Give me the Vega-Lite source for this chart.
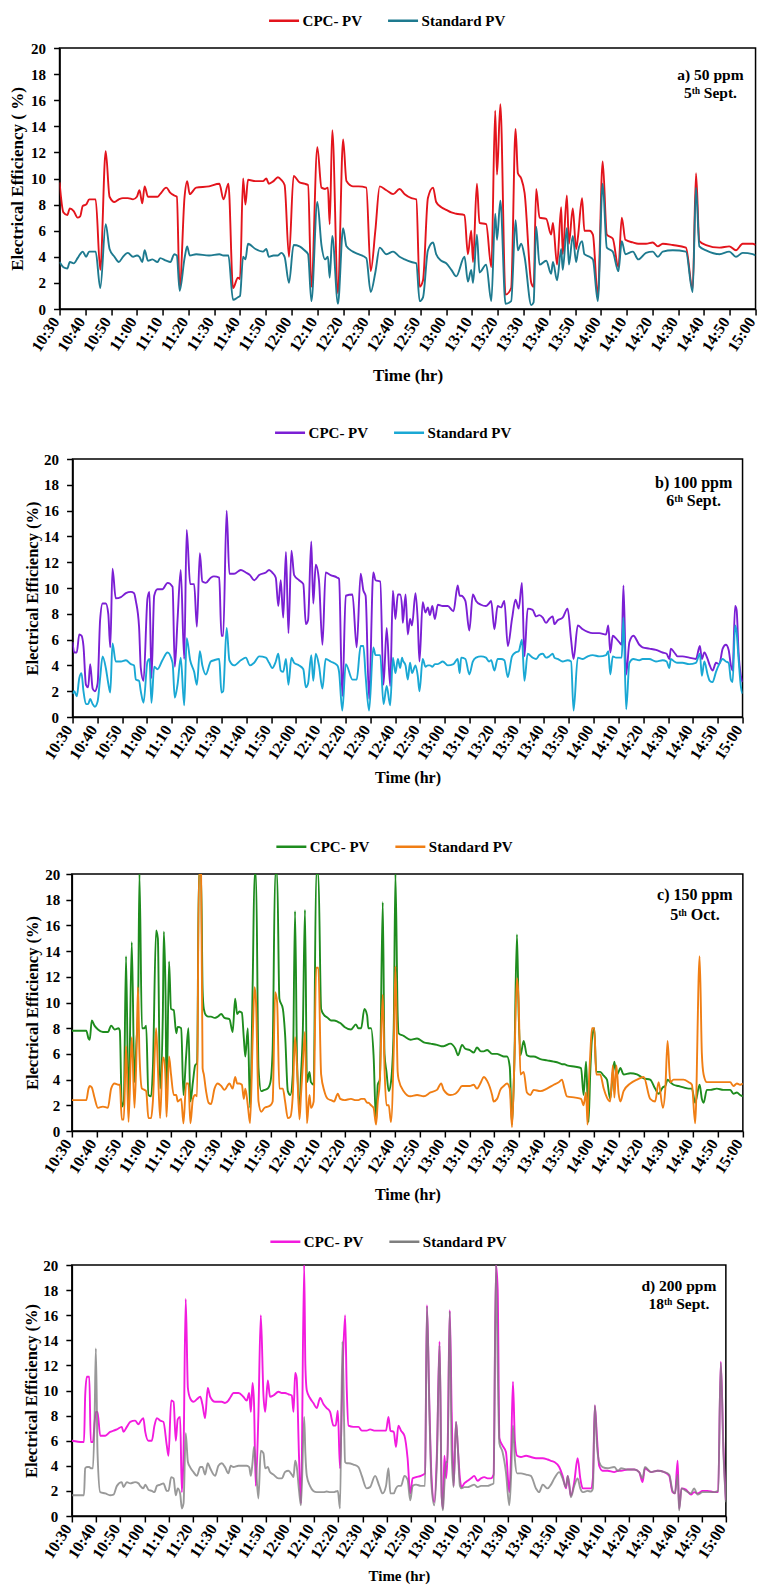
{
  "$schema": "https://vega.github.io/schema/vega-lite/v6.json",
  "background": "white",
  "padding": {"top": 3, "left": 7, "right": 0, "bottom": 0},
  "config": {
    "font": "Liberation Serif",
    "view": {"stroke": "#000", "strokeWidth": 1.5},
    "axis": {
      "grid": false, "domainColor": "#000", "domainWidth": 1.5,
      "tickColor": "#000", "tickWidth": 1.5, "tickSize": 6,
      "labelFont": "Liberation Serif", "labelFontWeight": "bold", "labelColor": "#000", "labelFontSize": 15,
      "labelOverlap": false, "labelFlush": false, "labelBound": false,
      "titleFont": "Liberation Serif", "titleFontWeight": "bold", "titleColor": "#000", "titleFontSize": 16.5
    },
    "axisX": {"labelAngle": -57, "labelAlign": "right", "labelBaseline": "alphabetic", "labelPadding": 6, "labelFontSize": 16, "tickCount": 40},
    "axisY": {"tickCount": 20},
    "legend": {
      "orient": "none", "direction": "horizontal", "title": null,
      "symbolType": "stroke", "symbolSize": 900, "symbolStrokeWidth": 2.5,
      "labelFont": "Liberation Serif", "labelFontWeight": "bold", "labelFontSize": 15, "labelColor": "#000",
      "labelOffset": 2, "columnPadding": 20, "padding": 0, "symbolOffset": 0
    }
  },
  "datasets": {
    "ppm50": [
      {"minute":630,"cpc":9.7,"std":3.6},{"minute":631.5,"cpc":7.4,"std":3.2},{"minute":633,"cpc":7.2,"std":3.1},{"minute":634,"cpc":7.7,"std":3.6},
      {"minute":635.5,"cpc":7.5,"std":3.5},{"minute":637,"cpc":7.0,"std":3.9},{"minute":638,"cpc":7.1,"std":4.2},{"minute":639,"cpc":7.9,"std":4.4},
      {"minute":640.3,"cpc":8.0,"std":4.0},{"minute":641.5,"cpc":8.4,"std":4.4},{"minute":644,"cpc":8.4,"std":4.4},{"minute":645.8,"cpc":3.0,"std":1.6},
      {"minute":647.9,"cpc":12.1,"std":6.5},{"minute":649.4,"cpc":8.6,"std":4.6},{"minute":651.3,"cpc":8.2,"std":4.0},{"minute":653,"cpc":8.4,"std":3.6},
      {"minute":654.6,"cpc":8.5,"std":4.0},{"minute":656.5,"cpc":8.5,"std":4.3},{"minute":658.5,"cpc":8.4,"std":4.0},{"minute":660,"cpc":8.6,"std":4.1},
      {"minute":661,"cpc":9.1,"std":4.0},{"minute":662.1,"cpc":8.1,"std":3.6},{"minute":663,"cpc":9.4,"std":4.5},{"minute":664.3,"cpc":8.6,"std":3.7},
      {"minute":666,"cpc":8.6,"std":3.8},{"minute":668,"cpc":8.6,"std":3.6},{"minute":669,"cpc":8.8,"std":3.9},{"minute":671.4,"cpc":9.3,"std":3.7},
      {"minute":673,"cpc":8.9,"std":3.6},{"minute":674.5,"cpc":8.7,"std":4.2},{"minute":675.5,"cpc":8.6,"std":4.1},{"minute":676.6,"cpc":1.6,"std":1.4},
      {"minute":678.5,"cpc":8.6,"std":3.9},{"minute":679.5,"cpc":9.8,"std":4.8},{"minute":680.5,"cpc":8.8,"std":4.1},{"minute":683,"cpc":9.3,"std":4.2},
      {"minute":688,"cpc":9.4,"std":4.1},{"minute":692,"cpc":9.6,"std":4.2},{"minute":693.6,"cpc":8.4,"std":4.1},{"minute":695.5,"cpc":9.6,"std":4.1},
      {"minute":697.3,"cpc":1.6,"std":0.7},{"minute":699.2,"cpc":2.4,"std":0.9},{"minute":700,"cpc":2.3,"std":1.0},{"minute":701.2,"cpc":10.0,"std":4.0},
      {"minute":702.1,"cpc":8.0,"std":3.8},{"minute":703.1,"cpc":9.9,"std":5.0},{"minute":706,"cpc":9.8,"std":4.6},{"minute":708.9,"cpc":9.8,"std":4.4},
      {"minute":710.2,"cpc":10.0,"std":4.6},{"minute":711.2,"cpc":9.6,"std":4.0},{"minute":713,"cpc":9.8,"std":4.1},{"minute":714.7,"cpc":10.1,"std":4.1},
      {"minute":716,"cpc":9.9,"std":4.3},{"minute":717.3,"cpc":9.5,"std":4.0},{"minute":719,"cpc":4.0,"std":2.0},{"minute":720.8,"cpc":10.2,"std":4.9},
      {"minute":723.1,"cpc":9.7,"std":4.8},{"minute":725,"cpc":9.6,"std":4.5},{"minute":726.4,"cpc":9.5,"std":4.2},{"minute":727.7,"cpc":1.7,"std":0.6},
      {"minute":730,"cpc":12.4,"std":8.2},{"minute":731.6,"cpc":9.3,"std":4.9},{"minute":733,"cpc":9.2,"std":3.8},{"minute":734.1,"cpc":9.3,"std":4.0},
      {"minute":734.8,"cpc":6.5,"std":2.4},{"minute":735.8,"cpc":13.7,"std":5.6},{"minute":738,"cpc":1.2,"std":0.4},{"minute":740,"cpc":13.0,"std":6.2},
      {"minute":741.3,"cpc":9.8,"std":4.8},{"minute":743.8,"cpc":9.4,"std":4.4},{"minute":746,"cpc":9.4,"std":4.2},{"minute":749,"cpc":9.3,"std":3.9},
      {"minute":750.7,"cpc":2.9,"std":1.3},{"minute":752.5,"cpc":6.0,"std":2.8},{"minute":754.2,"cpc":9.4,"std":4.7},{"minute":756.8,"cpc":9.1,"std":4.2},
      {"minute":759.4,"cpc":8.8,"std":4.4},{"minute":761.9,"cpc":9.2,"std":4.0},{"minute":763.9,"cpc":8.8,"std":3.8},{"minute":766.5,"cpc":8.5,"std":3.6},
      {"minute":768.4,"cpc":8.4,"std":3.5},{"minute":769.7,"cpc":1.7,"std":0.6},{"minute":771,"cpc":2.2,"std":0.9},{"minute":772.9,"cpc":8.5,"std":4.5},
      {"minute":774.9,"cpc":9.3,"std":5.1},{"minute":776.1,"cpc":8.2,"std":4.2},{"minute":778.1,"cpc":7.8,"std":3.7},{"minute":780,"cpc":7.6,"std":3.5},
      {"minute":782,"cpc":7.4,"std":3.0},{"minute":783.9,"cpc":7.3,"std":2.5},{"minute":787.1,"cpc":7.2,"std":4.0},{"minute":788.4,"cpc":4.2,"std":2.1},
      {"minute":789.7,"cpc":6.0,"std":3.0},{"minute":790.4,"cpc":3.6,"std":2.0},{"minute":791.9,"cpc":9.6,"std":5.7},{"minute":792.9,"cpc":6.6,"std":2.8},
      {"minute":795.5,"cpc":6.5,"std":3.4},{"minute":797.5,"cpc":3.2,"std":0.6},{"minute":799,"cpc":15.2,"std":7.3},{"minute":799.7,"cpc":10.3,"std":5.3},
      {"minute":801,"cpc":15.7,"std":8.3},{"minute":803,"cpc":1.1,"std":0.4},{"minute":805.2,"cpc":1.6,"std":0.6},{"minute":806.9,"cpc":13.8,"std":6.8},
      {"minute":807.8,"cpc":10.4,"std":4.5},{"minute":809.1,"cpc":10.0,"std":5.0},{"minute":810.4,"cpc":8.9,"std":4.0},{"minute":813,"cpc":2.0,"std":0.3},
      {"minute":813.9,"cpc":1.7,"std":0.5},{"minute":814.9,"cpc":9.2,"std":6.3},{"minute":816.2,"cpc":7.0,"std":3.4},{"minute":818.8,"cpc":6.9,"std":3.7},
      {"minute":820.7,"cpc":5.7,"std":2.7},{"minute":821.4,"cpc":6.6,"std":3.6},{"minute":823,"cpc":3.4,"std":2.2},{"minute":824.6,"cpc":7.8,"std":4.6},
      {"minute":825.2,"cpc":4.2,"std":3.0},{"minute":826.8,"cpc":8.7,"std":6.2},{"minute":827.6,"cpc":5.0,"std":3.4},{"minute":829.1,"cpc":7.7,"std":5.6},
      {"minute":830.4,"cpc":4.6,"std":3.6},{"minute":831.1,"cpc":5.5,"std":4.4},{"minute":832.7,"cpc":8.5,"std":5.2},{"minute":833.6,"cpc":6.0,"std":4.2},
      {"minute":835.6,"cpc":6.0,"std":4.0},{"minute":836.9,"cpc":5.7,"std":3.8},{"minute":838.8,"cpc":1.0,"std":0.6},{"minute":840.7,"cpc":11.3,"std":9.6},
      {"minute":842.3,"cpc":5.7,"std":4.7},{"minute":844.6,"cpc":5.4,"std":4.4},{"minute":846.8,"cpc":3.2,"std":2.9},{"minute":848.1,"cpc":7.0,"std":5.2},
      {"minute":849.5,"cpc":5.3,"std":4.2},{"minute":852.4,"cpc":5.1,"std":4.4},{"minute":854.5,"cpc":5.0,"std":3.8},{"minute":857.5,"cpc":5.0,"std":4.3},
      {"minute":860.1,"cpc":5.1,"std":4.4},{"minute":862.1,"cpc":4.8,"std":4.0},{"minute":864,"cpc":5.0,"std":4.4},{"minute":867.9,"cpc":4.9,"std":4.5},
      {"minute":873,"cpc":4.7,"std":4.4},{"minute":875.6,"cpc":1.5,"std":1.3},{"minute":876.9,"cpc":10.4,"std":9.3},{"minute":878.2,"cpc":5.2,"std":4.8},
      {"minute":880.8,"cpc":4.9,"std":4.5},{"minute":886,"cpc":4.7,"std":4.2},{"minute":889.8,"cpc":4.8,"std":4.4},{"minute":892.4,"cpc":4.5,"std":4.0},
      {"minute":895,"cpc":5.0,"std":4.3},{"minute":898.9,"cpc":5.0,"std":4.2},{"minute":900,"cpc":4.9,"std":4.1}
    ],
    "ppm100": [
      {"minute":630,"cpc":5.8,"std":1.8},{"minute":630.7,"cpc":5.0,"std":2.0},{"minute":631.7,"cpc":5.0,"std":1.6},{"minute":632.7,"cpc":6.4,"std":3.0},
      {"minute":633.6,"cpc":6.3,"std":3.4},{"minute":634.4,"cpc":5.5,"std":2.0},{"minute":635.4,"cpc":2.5,"std":1.0},{"minute":636.3,"cpc":2.3,"std":1.0},
      {"minute":637.1,"cpc":4.1,"std":1.4},{"minute":638.1,"cpc":2.2,"std":1.0},{"minute":639,"cpc":2.0,"std":0.8},{"minute":640.1,"cpc":2.6,"std":1.2},
      {"minute":641.1,"cpc":7.5,"std":3.0},{"minute":642.1,"cpc":8.8,"std":4.7},{"minute":643.4,"cpc":8.8,"std":3.8},{"minute":644.4,"cpc":8.0,"std":2.6},
      {"minute":645.2,"cpc":5.4,"std":1.9},{"minute":646.1,"cpc":11.5,"std":5.7},{"minute":647.4,"cpc":9.2,"std":4.3},{"minute":649.5,"cpc":9.3,"std":4.3},
      {"minute":651.5,"cpc":9.6,"std":4.4},{"minute":653.5,"cpc":9.7,"std":4.1},{"minute":654.8,"cpc":9.6,"std":4.0},{"minute":655.5,"cpc":9.0,"std":2.9},
      {"minute":656.8,"cpc":7.0,"std":2.8},{"minute":657.5,"cpc":3.8,"std":2.0},{"minute":658.6,"cpc":2.8,"std":1.1},{"minute":660.2,"cpc":9.2,"std":4.3},
      {"minute":661,"cpc":9.7,"std":4.5},{"minute":661.8,"cpc":3.0,"std":1.1},{"minute":662.9,"cpc":9.4,"std":3.9},{"minute":664.2,"cpc":9.9,"std":3.7},
      {"minute":666.2,"cpc":9.9,"std":4.4},{"minute":668.3,"cpc":10.4,"std":5.0},{"minute":670.3,"cpc":10.1,"std":4.2},{"minute":671.2,"cpc":3.9,"std":1.5},
      {"minute":672.3,"cpc":7.5,"std":2.5},{"minute":673.6,"cpc":11.4,"std":4.6},{"minute":675,"cpc":4.5,"std":0.9},{"minute":676,"cpc":14.5,"std":6.1},
      {"minute":677.4,"cpc":10.3,"std":4.4},{"minute":679,"cpc":10.3,"std":3.5},{"minute":680.1,"cpc":7.0,"std":2.5},{"minute":681.3,"cpc":12.7,"std":5.1},
      {"minute":682.3,"cpc":10.5,"std":4.0},{"minute":683.7,"cpc":10.4,"std":3.3},{"minute":685.7,"cpc":10.8,"std":4.3},{"minute":687,"cpc":10.9,"std":4.4},
      {"minute":689.1,"cpc":10.8,"std":4.5},{"minute":690,"cpc":6.3,"std":1.9},{"minute":690.7,"cpc":6.3,"std":2.0},{"minute":692.1,"cpc":16.0,"std":6.9},
      {"minute":693.2,"cpc":11.1,"std":4.4},{"minute":695.1,"cpc":11.1,"std":4.0},{"minute":697.8,"cpc":11.4,"std":4.4},{"minute":699.8,"cpc":11.2,"std":4.6},
      {"minute":701.5,"cpc":11.0,"std":4.0},{"minute":703.2,"cpc":10.6,"std":4.2},{"minute":705.2,"cpc":11.0,"std":4.7},{"minute":707.9,"cpc":11.2,"std":4.6},
      {"minute":709.2,"cpc":11.4,"std":4.2},{"minute":710.5,"cpc":11.2,"std":3.8},{"minute":711.9,"cpc":10.8,"std":4.3},{"minute":712.9,"cpc":8.6,"std":4.9},
      {"minute":713.9,"cpc":10.6,"std":3.6},{"minute":714.9,"cpc":7.7,"std":3.5},{"minute":716,"cpc":12.8,"std":4.5},{"minute":717,"cpc":6.5,"std":2.5},
      {"minute":718.2,"cpc":12.9,"std":4.6},{"minute":719.3,"cpc":11.0,"std":4.2},{"minute":721.3,"cpc":10.6,"std":4.0},{"minute":723,"cpc":10.3,"std":3.7},
      {"minute":724,"cpc":7.2,"std":2.3},{"minute":724.9,"cpc":7.5,"std":2.6},{"minute":726.2,"cpc":13.6,"std":4.8},{"minute":727,"cpc":8.8,"std":2.8},
      {"minute":728,"cpc":11.8,"std":4.9},{"minute":729.3,"cpc":10.6,"std":4.0},{"minute":730.7,"cpc":5.6,"std":2.2},{"minute":732,"cpc":11.2,"std":4.5},
      {"minute":734,"cpc":11.0,"std":4.3},{"minute":736.7,"cpc":10.8,"std":4.0},{"minute":737.4,"cpc":10.7,"std":3.5},{"minute":738.7,"cpc":1.6,"std":0.5},
      {"minute":740.1,"cpc":9.4,"std":4.1},{"minute":742.8,"cpc":9.5,"std":2.9},{"minute":744.5,"cpc":5.4,"std":2.9},{"minute":746.1,"cpc":11.1,"std":5.5},
      {"minute":747.2,"cpc":9.8,"std":5.5},{"minute":748.1,"cpc":9.4,"std":3.2},{"minute":749.5,"cpc":1.4,"std":0.5},{"minute":751.2,"cpc":11.2,"std":5.4},
      {"minute":752.1,"cpc":10.6,"std":4.8},{"minute":754,"cpc":10.5,"std":4.8},{"minute":755.3,"cpc":2.5,"std":1.0},{"minute":756.6,"cpc":6.9,"std":2.4},
      {"minute":758,"cpc":2.4,"std":0.9},{"minute":759.1,"cpc":9.8,"std":4.6},{"minute":760.1,"cpc":7.6,"std":3.4},{"minute":761.1,"cpc":9.5,"std":4.5},
      {"minute":762,"cpc":9.5,"std":3.8},{"minute":762.8,"cpc":8.5,"std":4.6},{"minute":763.1,"cpc":7.3,"std":4.4},{"minute":764.2,"cpc":9.5,"std":4.0},
      {"minute":765.1,"cpc":6.4,"std":2.9},{"minute":766,"cpc":7.6,"std":4.2},{"minute":766.8,"cpc":7.1,"std":3.4},{"minute":768.2,"cpc":9.6,"std":4.0},
      {"minute":769.1,"cpc":7.5,"std":3.2},{"minute":769.8,"cpc":4.3,"std":2.0},{"minute":771.1,"cpc":8.9,"std":4.5},{"minute":772.2,"cpc":8.1,"std":3.9},
      {"minute":773.2,"cpc":8.5,"std":4.0},{"minute":774,"cpc":7.9,"std":4.0},{"minute":775,"cpc":8.6,"std":3.9},{"minute":776,"cpc":7.6,"std":4.1},
      {"minute":777.2,"cpc":8.7,"std":4.1},{"minute":779.2,"cpc":8.6,"std":4.3},{"minute":781.2,"cpc":8.6,"std":4.0},{"minute":783.5,"cpc":8.2,"std":4.1},
      {"minute":785.2,"cpc":10.2,"std":4.5},{"minute":786,"cpc":9.4,"std":3.4},{"minute":786.6,"cpc":9.4,"std":4.6},{"minute":788.3,"cpc":9.0,"std":4.5},
      {"minute":789.9,"cpc":6.7,"std":3.3},{"minute":791.3,"cpc":9.5,"std":4.3},{"minute":792.6,"cpc":9.0,"std":4.6},{"minute":794.6,"cpc":8.7,"std":4.7},
      {"minute":796.6,"cpc":8.6,"std":4.6},{"minute":797.8,"cpc":8.8,"std":4.3},{"minute":798.7,"cpc":9.0,"std":4.4},{"minute":800,"cpc":6.8,"std":3.6},
      {"minute":801.3,"cpc":8.6,"std":4.5},{"minute":802.7,"cpc":8.5,"std":4.5},{"minute":804,"cpc":9.0,"std":4.4},{"minute":805.4,"cpc":5.5,"std":3.1},
      {"minute":807.1,"cpc":7.6,"std":4.7},{"minute":808.5,"cpc":9.1,"std":5.0},{"minute":809.8,"cpc":8.4,"std":5.1},{"minute":811.1,"cpc":10.4,"std":6.0},
      {"minute":812.1,"cpc":4.7,"std":2.8},{"minute":813.4,"cpc":8.4,"std":4.9},{"minute":815.4,"cpc":8.3,"std":4.6},{"minute":816.8,"cpc":7.8,"std":4.5},
      {"minute":818.1,"cpc":7.9,"std":4.8},{"minute":819.5,"cpc":7.7,"std":4.9},{"minute":820.8,"cpc":7.3,"std":4.6},{"minute":822.1,"cpc":7.6,"std":4.7},
      {"minute":823.5,"cpc":7.8,"std":4.9},{"minute":824.2,"cpc":7.2,"std":4.6},{"minute":825.5,"cpc":7.5,"std":4.5},{"minute":827.5,"cpc":7.7,"std":4.3},
      {"minute":829.5,"cpc":8.4,"std":4.4},{"minute":830.9,"cpc":6.0,"std":4.3},{"minute":831.9,"cpc":4.5,"std":0.5},{"minute":833.6,"cpc":7.1,"std":4.6},
      {"minute":835.6,"cpc":6.8,"std":4.5},{"minute":837.6,"cpc":6.6,"std":4.7},{"minute":839.6,"cpc":6.5,"std":4.8},{"minute":842.3,"cpc":6.5,"std":4.7},
      {"minute":845,"cpc":6.4,"std":4.8},{"minute":845.9,"cpc":7.1,"std":5.1},{"minute":846.7,"cpc":5.0,"std":3.3},{"minute":847.7,"cpc":6.3,"std":4.7},
      {"minute":849,"cpc":6.1,"std":4.6},{"minute":850.3,"cpc":5.8,"std":4.6},{"minute":851.3,"cpc":5.6,"std":4.6},{"minute":852,"cpc":10.2,"std":7.7},
      {"minute":853.1,"cpc":3.3,"std":0.6},{"minute":854.4,"cpc":5.8,"std":4.2},{"minute":856,"cpc":6.3,"std":4.5},{"minute":858.4,"cpc":5.6,"std":4.4},
      {"minute":859.7,"cpc":5.4,"std":4.5},{"minute":862.4,"cpc":5.3,"std":4.5},{"minute":865.1,"cpc":5.2,"std":4.3},{"minute":867.8,"cpc":5.0,"std":4.4},
      {"minute":869.4,"cpc":4.9,"std":4.3},{"minute":870.5,"cpc":4.5,"std":3.8},{"minute":871.1,"cpc":5.3,"std":4.5},{"minute":872.5,"cpc":5.0,"std":4.3},
      {"minute":873.8,"cpc":4.7,"std":4.2},{"minute":875.8,"cpc":4.7,"std":4.2},{"minute":878.5,"cpc":4.6,"std":4.1},{"minute":881.2,"cpc":4.5,"std":4.2},
      {"minute":882.8,"cpc":5.5,"std":4.9},{"minute":883.6,"cpc":4.5,"std":3.2},{"minute":884.6,"cpc":5.0,"std":4.3},{"minute":885.9,"cpc":4.5,"std":3.3},
      {"minute":886.8,"cpc":4.0,"std":2.8},{"minute":887.9,"cpc":3.6,"std":2.7},{"minute":889.3,"cpc":4.2,"std":3.5},{"minute":890.6,"cpc":4.1,"std":4.1},
      {"minute":892,"cpc":5.3,"std":4.5},{"minute":893.3,"cpc":5.6,"std":4.3},{"minute":894.4,"cpc":5.2,"std":4.2},{"minute":895.3,"cpc":4.0,"std":2.9},
      {"minute":896,"cpc":3.6,"std":2.7},{"minute":897,"cpc":8.6,"std":7.1},{"minute":897.6,"cpc":8.3,"std":6.6},{"minute":898.4,"cpc":5.0,"std":4.5},
      {"minute":899.3,"cpc":3.2,"std":2.4},{"minute":900,"cpc":2.7,"std":1.8}
    ],
    "ppm150": [
      {"minute":630,"cpc":7.8,"std":2.4},{"minute":635.8,"cpc":7.8,"std":2.4},{"minute":636.7,"cpc":7.2,"std":3.3},{"minute":637.2,"cpc":7.1,"std":3.5},
      {"minute":638,"cpc":8.6,"std":3.4},{"minute":639.1,"cpc":8.2,"std":2.6},{"minute":640.5,"cpc":7.9,"std":1.8},{"minute":642.5,"cpc":7.7,"std":1.9},
      {"minute":644.5,"cpc":7.7,"std":1.8},{"minute":645.8,"cpc":8.2,"std":3.3},{"minute":647.2,"cpc":7.9,"std":3.7},{"minute":648.8,"cpc":8.0,"std":3.6},
      {"minute":649.3,"cpc":7.8,"std":3.6},{"minute":650.1,"cpc":1.9,"std":0.9},{"minute":650.9,"cpc":2.3,"std":0.9},{"minute":651.8,"cpc":13.6,"std":6.6},
      {"minute":652.8,"cpc":1.6,"std":0.7},{"minute":654.1,"cpc":14.7,"std":7.3},{"minute":655.2,"cpc":3.8,"std":1.8},{"minute":656,"cpc":7.0,"std":6.0},
      {"minute":656.6,"cpc":9.0,"std":11.2},{"minute":657.2,"cpc":20,"std":6.0},{"minute":658.2,"cpc":8.0,"std":3.3},{"minute":659.2,"cpc":8.0,"std":3.2},
      {"minute":659.9,"cpc":8.2,"std":3.1},{"minute":660.8,"cpc":2.8,"std":1.0},{"minute":661.9,"cpc":2.7,"std":1.0},{"minute":662.6,"cpc":4.9,"std":2.3},
      {"minute":663.9,"cpc":15.6,"std":8.0},{"minute":664.6,"cpc":15.0,"std":5.0},{"minute":665.5,"cpc":3.3,"std":1.0},{"minute":666.6,"cpc":9.0,"std":5.7},
      {"minute":667,"cpc":15.5,"std":5.7},{"minute":667.7,"cpc":10.5,"std":4.0},{"minute":668.1,"cpc":2.3,"std":1.1},{"minute":669.1,"cpc":13.2,"std":5.8},
      {"minute":669.9,"cpc":9.5,"std":4.4},{"minute":671,"cpc":9.4,"std":2.8},{"minute":672,"cpc":7.6,"std":2.8},{"minute":672.6,"cpc":8.1,"std":2.3},
      {"minute":674,"cpc":8.0,"std":2.5},{"minute":674.9,"cpc":2.8,"std":0.6},{"minute":676,"cpc":5.9,"std":3.7},{"minute":676.9,"cpc":8.0,"std":3.7},
      {"minute":677.7,"cpc":2.3,"std":0.6},{"minute":678.7,"cpc":3.8,"std":2.5},{"minute":679.6,"cpc":5.1,"std":2.8},{"minute":680.4,"cpc":5.3,"std":2.7},
      {"minute":681.1,"cpc":20,"std":20},{"minute":682,"cpc":20,"std":20},{"minute":682.6,"cpc":11.0,"std":4.9},{"minute":683.1,"cpc":9.5,"std":4.4},
      {"minute":684,"cpc":9.0,"std":3.1},{"minute":685,"cpc":8.9,"std":2.2},{"minute":686,"cpc":8.9,"std":2.1},{"minute":687.4,"cpc":8.8,"std":3.3},
      {"minute":688.7,"cpc":8.9,"std":3.7},{"minute":690.1,"cpc":9.1,"std":3.5},{"minute":691.4,"cpc":8.8,"std":3.2},{"minute":693.4,"cpc":8.7,"std":3.7},
      {"minute":694.7,"cpc":7.7,"std":3.3},{"minute":695.7,"cpc":10.3,"std":4.2},{"minute":696.5,"cpc":9.1,"std":3.7},{"minute":697.4,"cpc":9.3,"std":3.7},
      {"minute":698.4,"cpc":9.2,"std":3.6},{"minute":699.2,"cpc":7.2,"std":2.5},{"minute":699.8,"cpc":5.8,"std":3.3},{"minute":700.8,"cpc":8.0,"std":2.0},
      {"minute":701.7,"cpc":1.8,"std":0.6},{"minute":702.8,"cpc":12.0,"std":7.5},{"minute":703.5,"cpc":20,"std":11.2},{"minute":704.1,"cpc":20,"std":10.0},
      {"minute":705.1,"cpc":4.9,"std":2.3},{"minute":706.2,"cpc":3.1,"std":1.5},{"minute":707.5,"cpc":3.2,"std":1.8},{"minute":708.8,"cpc":3.3,"std":1.9},
      {"minute":709.9,"cpc":3.8,"std":2.0},{"minute":710.8,"cpc":6.4,"std":2.3},{"minute":711.8,"cpc":20,"std":10.8},{"minute":712.6,"cpc":20,"std":10.0},
      {"minute":713.5,"cpc":10.3,"std":3.3},{"minute":714.9,"cpc":9.5,"std":3.3},{"minute":715.8,"cpc":7.5,"std":2.3},{"minute":716.9,"cpc":3.1,"std":1.0},
      {"minute":717.9,"cpc":2.8,"std":1.1},{"minute":718.9,"cpc":4.4,"std":2.8},{"minute":719.8,"cpc":17.1,"std":7.3},{"minute":720.6,"cpc":5.5,"std":4.9},
      {"minute":721.6,"cpc":2.0,"std":0.9},{"minute":722.2,"cpc":4.4,"std":2.8},{"minute":722.9,"cpc":7.5,"std":5.0},{"minute":723.8,"cpc":17.2,"std":7.7},
      {"minute":724.6,"cpc":3.8,"std":0.6},{"minute":725.6,"cpc":4.6,"std":2.8},{"minute":726.2,"cpc":3.8,"std":1.8},{"minute":727.3,"cpc":3.6,"std":2.3},
      {"minute":728.3,"cpc":20,"std":12.7},{"minute":729.2,"cpc":20,"std":12.7},{"minute":730.3,"cpc":9.5,"std":4.4},{"minute":731.6,"cpc":9.0,"std":3.1},
      {"minute":733,"cpc":8.8,"std":2.5},{"minute":734.3,"cpc":8.6,"std":2.4},{"minute":735.5,"cpc":8.6,"std":2.3},{"minute":737,"cpc":8.5,"std":2.9},
      {"minute":738,"cpc":8.4,"std":2.5},{"minute":739.7,"cpc":8.1,"std":2.4},{"minute":742.3,"cpc":7.9,"std":2.5},{"minute":744.3,"cpc":8.3,"std":2.4},
      {"minute":745.3,"cpc":8.0,"std":2.4},{"minute":746.4,"cpc":8.0,"std":2.5},{"minute":747.7,"cpc":9.5,"std":2.5},{"minute":748.8,"cpc":9.0,"std":2.2},
      {"minute":749.3,"cpc":8.0,"std":2.2},{"minute":750.4,"cpc":8.0,"std":2.0},{"minute":751.4,"cpc":5.9,"std":1.8},{"minute":752.4,"cpc":0.7,"std":0.5},
      {"minute":753.1,"cpc":3.6,"std":2.3},{"minute":753.9,"cpc":4.0,"std":3.8},{"minute":755.1,"cpc":17.8,"std":10.6},{"minute":755.8,"cpc":6.0,"std":4.9},
      {"minute":756.6,"cpc":4.6,"std":2.0},{"minute":757.5,"cpc":3.1,"std":2.0},{"minute":758.4,"cpc":3.8,"std":0.7},{"minute":759.5,"cpc":8.0,"std":6.2},
      {"minute":760.2,"cpc":20,"std":12.8},{"minute":761.1,"cpc":9.0,"std":4.6},{"minute":761.5,"cpc":7.6,"std":4.0},{"minute":763.5,"cpc":7.4,"std":3.1},
      {"minute":766.2,"cpc":7.1,"std":2.7},{"minute":768.9,"cpc":7.2,"std":2.8},{"minute":771.6,"cpc":6.9,"std":2.7},{"minute":774.3,"cpc":6.8,"std":3.0},
      {"minute":776.9,"cpc":6.7,"std":3.2},{"minute":778.6,"cpc":6.6,"std":3.7},{"minute":779.6,"cpc":6.6,"std":3.2},{"minute":782.3,"cpc":6.8,"std":2.8},
      {"minute":784.3,"cpc":6.4,"std":2.9},{"minute":785.4,"cpc":5.9,"std":3.1},{"minute":787,"cpc":6.7,"std":3.5},{"minute":788.3,"cpc":6.4,"std":3.5},
      {"minute":790.1,"cpc":6.3,"std":3.5},{"minute":791.7,"cpc":6.1,"std":3.6},{"minute":793,"cpc":6.5,"std":3.3},{"minute":794.6,"cpc":6.2,"std":3.8},
      {"minute":795.7,"cpc":6.2,"std":4.2},{"minute":797.1,"cpc":6.3,"std":3.9},{"minute":799.1,"cpc":6.0,"std":2.8},{"minute":799.7,"cpc":6.0,"std":2.3},
      {"minute":801.1,"cpc":6.0,"std":2.5},{"minute":802.4,"cpc":5.9,"std":3.2},{"minute":803.8,"cpc":5.8,"std":3.5},{"minute":805.1,"cpc":5.8,"std":3.7},
      {"minute":806.2,"cpc":5.0,"std":3.3},{"minute":807.1,"cpc":0.5,"std":0.3},{"minute":808,"cpc":5.0,"std":4.9},{"minute":809.1,"cpc":15.3,"std":11.9},
      {"minute":809.8,"cpc":9.0,"std":10.0},{"minute":810.5,"cpc":5.9,"std":4.4},{"minute":811.8,"cpc":7.0,"std":4.6},{"minute":813.1,"cpc":5.9,"std":3.0},
      {"minute":814.5,"cpc":5.8,"std":2.8},{"minute":815.8,"cpc":5.8,"std":3.2},{"minute":818.5,"cpc":5.6,"std":3.1},{"minute":821.2,"cpc":5.5,"std":3.3},
      {"minute":823.9,"cpc":5.4,"std":3.6},{"minute":825.9,"cpc":5.3,"std":3.8},{"minute":827.2,"cpc":5.2,"std":4.0},{"minute":828.2,"cpc":5.2,"std":3.3},
      {"minute":829.2,"cpc":5.1,"std":2.7},{"minute":832.6,"cpc":5.0,"std":2.6},{"minute":834.9,"cpc":4.9,"std":2.5},{"minute":835.9,"cpc":2.8,"std":2.0},
      {"minute":836.9,"cpc":5.4,"std":3.0},{"minute":837.5,"cpc":2.5,"std":0.5},{"minute":837.9,"cpc":0.7,"std":3.0},{"minute":838.6,"cpc":4.6,"std":6.0},
      {"minute":839.3,"cpc":7.2,"std":8.0},{"minute":840.2,"cpc":8.0,"std":8.0},{"minute":841,"cpc":4.6,"std":4.4},{"minute":842.6,"cpc":4.6,"std":4.4},
      {"minute":844,"cpc":4.3,"std":3.3},{"minute":845.3,"cpc":4.0,"std":2.6},{"minute":846.6,"cpc":2.5,"std":2.3},{"minute":847.7,"cpc":4.6,"std":5.1},
      {"minute":848.3,"cpc":5.4,"std":2.6},{"minute":849.1,"cpc":4.3,"std":5.1},{"minute":850,"cpc":4.6,"std":2.9},{"minute":850.7,"cpc":4.9,"std":2.3},
      {"minute":852,"cpc":4.4,"std":3.1},{"minute":854.7,"cpc":4.5,"std":3.7},{"minute":857.4,"cpc":4.4,"std":4.0},{"minute":860.1,"cpc":4.1,"std":4.2},
      {"minute":862.7,"cpc":4.0,"std":2.5},{"minute":864.7,"cpc":3.3,"std":2.3},{"minute":866.1,"cpc":2.9,"std":3.8},{"minute":867.8,"cpc":3.4,"std":1.8},
      {"minute":868.8,"cpc":3.5,"std":3.3},{"minute":869.7,"cpc":4.0,"std":7.0},{"minute":870.8,"cpc":3.8,"std":3.8},{"minute":872.1,"cpc":3.6,"std":4.0},
      {"minute":874.1,"cpc":3.5,"std":4.0},{"minute":876.1,"cpc":3.4,"std":4.0},{"minute":878.2,"cpc":3.3,"std":3.8},{"minute":879.5,"cpc":3.3,"std":3.6},
      {"minute":880.8,"cpc":2.2,"std":0.6},{"minute":882.6,"cpc":3.6,"std":13.6},{"minute":883.5,"cpc":2.5,"std":6.0},{"minute":884.2,"cpc":2.2,"std":4.4},
      {"minute":885.5,"cpc":3.2,"std":3.8},{"minute":886.9,"cpc":3.2,"std":3.8},{"minute":889.5,"cpc":3.3,"std":3.8},{"minute":892.2,"cpc":3.2,"std":3.8},
      {"minute":894.9,"cpc":3.2,"std":3.8},{"minute":896.2,"cpc":2.9,"std":3.5},{"minute":897.6,"cpc":3.0,"std":3.7},{"minute":898.9,"cpc":2.8,"std":3.6},
      {"minute":900,"cpc":2.7,"std":3.7}
    ],
    "ppm200": [
      {"minute":630,"cpc":6.0,"std":1.65},{"minute":634.4,"cpc":5.9,"std":1.65},{"minute":635,"cpc":5.9,"std":1.65},{"minute":635.5,"cpc":9.6,"std":3.8},
      {"minute":636.2,"cpc":11.1,"std":3.9},{"minute":637.2,"cpc":11.1,"std":3.9},{"minute":637.8,"cpc":5.9,"std":3.8},{"minute":638.7,"cpc":5.9,"std":3.8},
      {"minute":639.4,"cpc":7.5,"std":8.0},{"minute":639.9,"cpc":8.3,"std":13.35},{"minute":640.6,"cpc":8.3,"std":5.0},{"minute":641.7,"cpc":6.4,"std":1.9},
      {"minute":643.8,"cpc":6.4,"std":1.8},{"minute":645.8,"cpc":6.7,"std":1.65},{"minute":647.2,"cpc":6.8,"std":1.7},{"minute":648.6,"cpc":6.9,"std":2.4},
      {"minute":650.6,"cpc":7.1,"std":2.7},{"minute":651.3,"cpc":6.7,"std":2.3},{"minute":652.7,"cpc":7.1,"std":2.7},{"minute":654.1,"cpc":7.5,"std":2.6},
      {"minute":656.1,"cpc":7.6,"std":2.7},{"minute":657.5,"cpc":7.3,"std":2.6},{"minute":658.2,"cpc":7.5,"std":2.4},{"minute":659.5,"cpc":7.8,"std":2.2},
      {"minute":660.3,"cpc":6.7,"std":2.5},{"minute":661.6,"cpc":6.0,"std":2.1},{"minute":663,"cpc":6.0,"std":2.0},{"minute":664.1,"cpc":7.2,"std":1.9},
      {"minute":665.1,"cpc":7.8,"std":2.4},{"minute":666.5,"cpc":7.6,"std":2.5},{"minute":667.8,"cpc":7.5,"std":2.6},{"minute":669.2,"cpc":5.6,"std":2.0},
      {"minute":669.9,"cpc":4.8,"std":2.0},{"minute":671,"cpc":9.2,"std":3.1},{"minute":672,"cpc":9.1,"std":3.0},{"minute":672.9,"cpc":6.0,"std":1.65},
      {"minute":673.7,"cpc":7.7,"std":2.2},{"minute":674.7,"cpc":7.9,"std":1.8},{"minute":675.4,"cpc":1.9,"std":0.6},{"minute":676.1,"cpc":5.0,"std":1.0},
      {"minute":677,"cpc":17.3,"std":6.6},{"minute":677.9,"cpc":10.2,"std":4.3},{"minute":678.8,"cpc":9.4,"std":3.9},{"minute":680.2,"cpc":9.1,"std":3.5},
      {"minute":681.6,"cpc":9.3,"std":3.2},{"minute":683,"cpc":9.5,"std":3.9},{"minute":683.9,"cpc":8.9,"std":3.9},{"minute":685,"cpc":7.8,"std":3.3},
      {"minute":686.1,"cpc":10.2,"std":4.2},{"minute":687.1,"cpc":9.5,"std":3.8},{"minute":689.1,"cpc":9.1,"std":3.2},{"minute":690.5,"cpc":9.1,"std":4.0},
      {"minute":691.9,"cpc":9.1,"std":4.2},{"minute":693.2,"cpc":9.0,"std":3.9},{"minute":694.6,"cpc":9.2,"std":3.4},{"minute":695.6,"cpc":9.5,"std":4.0},
      {"minute":696.7,"cpc":9.8,"std":3.9},{"minute":698.8,"cpc":9.8,"std":4.0},{"minute":700.8,"cpc":9.5,"std":4.0},{"minute":702.2,"cpc":9.2,"std":4.0},
      {"minute":703.2,"cpc":9.8,"std":3.9},{"minute":703.9,"cpc":8.3,"std":3.2},{"minute":704.6,"cpc":10.6,"std":4.3},{"minute":705.2,"cpc":9.0,"std":5.5},
      {"minute":705.9,"cpc":2.4,"std":4.2},{"minute":707,"cpc":8.0,"std":1.4},{"minute":708,"cpc":16.0,"std":5.2},{"minute":709.1,"cpc":9.6,"std":5.0},
      {"minute":709.8,"cpc":8.3,"std":3.8},{"minute":710.9,"cpc":10.8,"std":3.9},{"minute":711.8,"cpc":9.5,"std":3.5},{"minute":713.2,"cpc":9.6,"std":3.3},
      {"minute":715.3,"cpc":9.9,"std":3.0},{"minute":716.7,"cpc":9.8,"std":3.0},{"minute":718,"cpc":9.8,"std":3.5},{"minute":719.4,"cpc":9.7,"std":3.6},
      {"minute":720.8,"cpc":9.6,"std":3.3},{"minute":721.5,"cpc":8.3,"std":3.1},{"minute":722.2,"cpc":11.4,"std":4.4},{"minute":722.8,"cpc":11.0,"std":4.0},
      {"minute":723.8,"cpc":4.6,"std":2.0},{"minute":724.6,"cpc":1.0,"std":0.85},{"minute":725.9,"cpc":20,"std":7.9},{"minute":726.4,"cpc":12.0,"std":5.0},
      {"minute":727,"cpc":10.0,"std":3.2},{"minute":728.3,"cpc":9.4,"std":2.4},{"minute":729.7,"cpc":9.0,"std":2.0},{"minute":731.1,"cpc":8.6,"std":1.9},
      {"minute":732.5,"cpc":9.4,"std":1.9},{"minute":733.9,"cpc":8.9,"std":1.9},{"minute":735.2,"cpc":8.6,"std":1.95},{"minute":736.6,"cpc":8.3,"std":1.9},
      {"minute":738,"cpc":7.2,"std":1.9},{"minute":738.9,"cpc":7.2,"std":1.95},{"minute":739.8,"cpc":8.4,"std":2.0},{"minute":740.7,"cpc":3.8,"std":0.6},
      {"minute":741.7,"cpc":11.0,"std":13.9},{"minute":742.8,"cpc":16.0,"std":4.3},{"minute":743.5,"cpc":10.0,"std":4.2},{"minute":744.2,"cpc":7.2,"std":4.2},
      {"minute":746.2,"cpc":7.1,"std":4.1},{"minute":748.3,"cpc":7.1,"std":3.9},{"minute":749.7,"cpc":6.8,"std":3.2},{"minute":751.7,"cpc":6.8,"std":2.2},
      {"minute":753.1,"cpc":6.9,"std":2.3},{"minute":755.2,"cpc":6.8,"std":3.2},{"minute":756.9,"cpc":6.8,"std":2.4},{"minute":758.3,"cpc":6.8,"std":1.8},
      {"minute":759.7,"cpc":6.8,"std":2.4},{"minute":760.7,"cpc":7.9,"std":3.8},{"minute":761.5,"cpc":6.8,"std":1.8},{"minute":762.9,"cpc":6.7,"std":1.8},
      {"minute":763.8,"cpc":5.5,"std":2.2},{"minute":764.8,"cpc":7.2,"std":2.4},{"minute":765.9,"cpc":6.8,"std":2.4},{"minute":767.3,"cpc":6.4,"std":3.2},
      {"minute":768.6,"cpc":4.6,"std":2.9},{"minute":769.7,"cpc":1.8,"std":1.25},{"minute":770.7,"cpc":3.0,"std":2.4},{"minute":772.1,"cpc":3.1,"std":2.5},
      {"minute":774.1,"cpc":3.2,"std":2.4},{"minute":775.8,"cpc":3.4,"std":2.4},{"minute":776.6,"cpc":16.8,"std":16.7},{"minute":777.6,"cpc":8.8,"std":8.3},
      {"minute":778.5,"cpc":3.0,"std":2.4},{"minute":779.6,"cpc":1.1,"std":0.85},{"minute":780.7,"cpc":5.0,"std":4.3},{"minute":781.8,"cpc":13.9,"std":13.6},
      {"minute":782.7,"cpc":1.5,"std":1.6},{"minute":783.2,"cpc":0.6,"std":0.45},{"minute":783.8,"cpc":4.8,"std":2.5},{"minute":784.5,"cpc":3.0,"std":4.3},
      {"minute":785.1,"cpc":5.0,"std":4.3},{"minute":786,"cpc":16.4,"std":16.3},{"minute":786.8,"cpc":8.3,"std":5.0},{"minute":787.6,"cpc":2.4,"std":2.3},
      {"minute":788.6,"cpc":7.5,"std":7.5},{"minute":789.3,"cpc":5.6,"std":5.6},{"minute":790.2,"cpc":3.0,"std":2.4},{"minute":790.9,"cpc":2.3,"std":2.2},
      {"minute":792,"cpc":2.6,"std":2.3},{"minute":793.4,"cpc":2.8,"std":2.3},{"minute":794.8,"cpc":3.0,"std":2.4},{"minute":796.1,"cpc":3.2,"std":2.5},
      {"minute":797.5,"cpc":2.8,"std":2.3},{"minute":798.9,"cpc":3.0,"std":2.4},{"minute":800.3,"cpc":3.1,"std":2.4},{"minute":801.6,"cpc":3.0,"std":2.4},
      {"minute":803,"cpc":3.0,"std":2.5},{"minute":804.1,"cpc":3.3,"std":2.6},{"minute":805.1,"cpc":20,"std":20},{"minute":805.8,"cpc":18.0,"std":12.0},
      {"minute":806.5,"cpc":6.2,"std":5.8},{"minute":807.8,"cpc":5.6,"std":5.1},{"minute":809.2,"cpc":5.1,"std":3.5},{"minute":810.6,"cpc":1.9,"std":0.85},
      {"minute":811.3,"cpc":4.8,"std":3.0},{"minute":812.1,"cpc":10.7,"std":7.2},{"minute":812.9,"cpc":6.0,"std":4.5},{"minute":813.8,"cpc":4.8,"std":3.4},
      {"minute":815.4,"cpc":4.7,"std":3.4},{"minute":817.5,"cpc":4.8,"std":3.3},{"minute":819.5,"cpc":4.7,"std":3.2},{"minute":821.6,"cpc":4.6,"std":2.2},
      {"minute":822.9,"cpc":4.6,"std":1.9},{"minute":824.4,"cpc":4.6,"std":2.5},{"minute":826.4,"cpc":4.5,"std":2.2},{"minute":827.8,"cpc":4.4,"std":2.5},
      {"minute":829.2,"cpc":4.3,"std":3.0},{"minute":831.2,"cpc":3.9,"std":3.5},{"minute":832.6,"cpc":3.2,"std":3.0},{"minute":834,"cpc":2.2,"std":2.3},
      {"minute":834.7,"cpc":3.2,"std":3.2},{"minute":835.4,"cpc":2.3,"std":2.5},{"minute":836,"cpc":1.6,"std":1.5},{"minute":837.4,"cpc":2.7,"std":2.4},
      {"minute":838.8,"cpc":4.6,"std":3.0},{"minute":839.9,"cpc":3.0,"std":2.2},{"minute":840.9,"cpc":2.2,"std":1.9},{"minute":842.9,"cpc":2.2,"std":2.0},
      {"minute":844.3,"cpc":2.2,"std":1.95},{"minute":845.1,"cpc":3.0,"std":2.2},{"minute":845.9,"cpc":8.8,"std":8.8},{"minute":846.8,"cpc":6.2,"std":5.6},
      {"minute":847.7,"cpc":4.0,"std":4.3},{"minute":849.1,"cpc":3.6,"std":3.9},{"minute":851.2,"cpc":3.6,"std":3.8},{"minute":853.9,"cpc":3.5,"std":3.9},
      {"minute":855.5,"cpc":3.6,"std":3.6},{"minute":856.7,"cpc":3.6,"std":3.8},{"minute":859.4,"cpc":3.7,"std":3.7},{"minute":862.2,"cpc":3.7,"std":3.7},
      {"minute":864.2,"cpc":3.5,"std":3.5},{"minute":865.6,"cpc":2.7,"std":3.0},{"minute":866.6,"cpc":3.8,"std":3.9},{"minute":869.1,"cpc":3.5,"std":3.5},
      {"minute":871.8,"cpc":3.6,"std":3.6},{"minute":874.6,"cpc":3.5,"std":3.5},{"minute":876.6,"cpc":3.2,"std":3.3},{"minute":878,"cpc":1.9,"std":2.0},
      {"minute":879,"cpc":1.8,"std":1.8},{"minute":880.1,"cpc":4.4,"std":3.3},{"minute":880.7,"cpc":0.6,"std":0.45},{"minute":881.7,"cpc":2.2,"std":2.2},
      {"minute":883.5,"cpc":2.1,"std":2.0},{"minute":885.6,"cpc":1.7,"std":1.8},{"minute":886.9,"cpc":1.9,"std":2.2},{"minute":888.3,"cpc":1.8,"std":1.7},
      {"minute":890.4,"cpc":2.0,"std":1.9},{"minute":892.4,"cpc":2.0,"std":1.9},{"minute":895.2,"cpc":1.9,"std":1.9},{"minute":896.8,"cpc":1.9,"std":2.0},
      {"minute":897.9,"cpc":12.3,"std":12.2},{"minute":899,"cpc":5.4,"std":5.0},{"minute":900,"cpc":1.25,"std":1.1}
    ]
  },
  "vconcat": [
    {
      "vconcat": [
        {
          "width": 696, "height": 261,
          "layer": [
            {
              "data": {"name": "ppm50"},
              "transform": [{"fold": ["cpc", "std"], "as": ["series", "efficiency"]}],
              "mark": {"type": "line", "interpolate": "monotone", "strokeWidth": 1.9, "clip": true},
              "encoding": {
                "x": {"field": "minute", "type": "quantitative", "title": "Time (hr)",
                  "scale": {"domain": [630, 900], "nice": false, "zero": false},
                  "axis": {"values": [630,640,650,660,670,680,690,700,710,720,730,740,750,760,770,780,790,800,810,820,830,840,850,860,870,880,890,900],
                    "tickCount": 40, "labelOverlap": false,
                    "labelExpr": "floor(datum.value/60) + ':' + (datum.value % 60 == 0 ? '00' : datum.value % 60)",
                    "titlePadding": 14, "titleFontSize": 17}},
                "y": {"field": "efficiency", "type": "quantitative", "title": "Electrical  Efficiency ( %)",
                  "scale": {"domain": [0, 20], "nice": false},
                  "axis": {"values": [0,2,4,6,8,10,12,14,16,18,20], "tickCount": 20, "labelOverlap": false, "labelPadding": 8, "titlePadding": 4, "titleFontSize": 17}},
                "color": {"field": "series", "type": "nominal",
                  "scale": {"domain": ["cpc", "std"], "range": ["#e3141c", "#1e7a8f"]},
                  "legend": {"legendX": 208, "legendY": -44, "labelExpr": "datum.label == 'cpc' ? 'CPC- PV' : 'Standard PV'"}}
              }
            },
            {
              "data": {"values": [{}]},
              "mark": {"type": "text", "text": ["a) 50 ppm", "5ᵗʰ Sept."], "font": "Liberation Serif", "fontWeight": "bold", "fontSize": 15.5, "lineHeight": 18, "align": "center", "baseline": "middle", "color": "#000"},
              "encoding": {
                "x": {"datum": 882.5, "type": "quantitative", "title": "Time (hr)"},
                "y": {"datum": 17.93, "type": "quantitative", "title": "Electrical  Efficiency ( %)"}
              }
            }
          ]
        },
        {
          "width": 670, "height": 258,
          "layer": [
            {
              "data": {"name": "ppm100"},
              "transform": [{"fold": ["cpc", "std"], "as": ["series", "efficiency"]}],
              "mark": {"type": "line", "interpolate": "monotone", "strokeWidth": 1.9, "clip": true},
              "encoding": {
                "x": {"field": "minute", "type": "quantitative", "title": "Time (hr)",
                  "scale": {"domain": [630, 900], "nice": false, "zero": false},
                  "axis": {"values": [630,640,650,660,670,680,690,700,710,720,730,740,750,760,770,780,790,800,810,820,830,840,850,860,870,880,890,900],
                    "tickCount": 40, "labelOverlap": false,
                    "labelExpr": "floor(datum.value/60) + ':' + (datum.value % 60 == 0 ? '00' : datum.value % 60)",
                    "titlePadding": 8, "titleFontSize": 16}},
                "y": {"field": "efficiency", "type": "quantitative", "title": "Electrical  Efficiency  (%)",
                  "scale": {"domain": [0, 20], "nice": false},
                  "axis": {"values": [0,2,4,6,8,10,12,14,16,18,20], "tickCount": 20, "labelOverlap": false, "labelPadding": 8, "titlePadding": 3}},
                "color": {"field": "series", "type": "nominal",
                  "scale": {"domain": ["cpc", "std"], "range": ["#7b1fd4", "#1aa8d4"]},
                  "legend": {"legendX": 201, "legendY": -43, "labelExpr": "datum.label == 'cpc' ? 'CPC- PV' : 'Standard PV'"}}
              }
            },
            {
              "data": {"values": [{}]},
              "mark": {"type": "text", "text": ["b) 100 ppm", "6ᵗʰ Sept."], "font": "Liberation Serif", "fontWeight": "bold", "fontSize": 16, "lineHeight": 18, "align": "center", "baseline": "middle", "color": "#000"},
              "encoding": {
                "x": {"datum": 880.3, "type": "quantitative", "title": "Time (hr)"},
                "y": {"datum": 18.14, "type": "quantitative", "title": "Electrical  Efficiency  (%)"}
              }
            }
          ]
        }
      ],
      "spacing": 30,
      "center": true,
      "resolve": {"scale": {"x": "independent", "y": "independent", "color": "independent"}, "legend": {"color": "independent"}}
    },
    {
      "vconcat": [
        {
          "width": 671, "height": 257,
          "layer": [
            {
              "data": {"name": "ppm150"},
              "transform": [{"fold": ["cpc", "std"], "as": ["series", "efficiency"]}],
              "mark": {"type": "line", "interpolate": "monotone", "strokeWidth": 1.9, "clip": true},
              "encoding": {
                "x": {"field": "minute", "type": "quantitative", "title": "Time (hr)",
                  "scale": {"domain": [630, 900], "nice": false, "zero": false},
                  "axis": {"values": [630,640,650,660,670,680,690,700,710,720,730,740,750,760,770,780,790,800,810,820,830,840,850,860,870,880,890,900],
                    "tickCount": 40, "labelOverlap": false,
                    "labelExpr": "floor(datum.value/60) + ':' + (datum.value % 60 == 0 ? '00' : datum.value % 60)",
                    "titlePadding": 11, "titleFontSize": 16}},
                "y": {"field": "efficiency", "type": "quantitative", "title": "Electrical  Efficiency  (%)",
                  "scale": {"domain": [0, 20], "nice": false},
                  "axis": {"values": [0,2,4,6,8,10,12,14,16,18,20], "tickCount": 20, "labelOverlap": false, "labelPadding": 6, "titlePadding": 4}},
                "color": {"field": "series", "type": "nominal",
                  "scale": {"domain": ["cpc", "std"], "range": ["#1e8c1e", "#f07e14"]},
                  "legend": {"legendX": 203, "legendY": -44, "labelExpr": "datum.label == 'cpc' ? 'CPC- PV' : 'Standard PV'"}}
              }
            },
            {
              "data": {"values": [{}]},
              "mark": {"type": "text", "text": ["c) 150 ppm", "5ᵗʰ Oct."], "font": "Liberation Serif", "fontWeight": "bold", "fontSize": 16, "lineHeight": 20, "align": "center", "baseline": "middle", "color": "#000"},
              "encoding": {
                "x": {"datum": 880.7, "type": "quantitative", "title": "Time (hr)"},
                "y": {"datum": 18.37, "type": "quantitative", "title": "Electrical  Efficiency  (%)"}
              }
            }
          ]
        },
        {
          "width": 654, "height": 251,
          "layer": [
            {
              "data": {"name": "ppm200"},
              "transform": [{"fold": ["cpc", "std"], "as": ["series", "efficiency"]}],
              "mark": {"type": "line", "interpolate": "monotone", "strokeWidth": 1.9, "clip": true},
              "encoding": {
                "x": {"field": "minute", "type": "quantitative", "title": "Time (hr)",
                  "scale": {"domain": [630, 900], "nice": false, "zero": false},
                  "axis": {"values": [630,640,650,660,670,680,690,700,710,720,730,740,750,760,770,780,790,800,810,820,830,840,850,860,870,880,890,900],
                    "tickCount": 40, "labelOverlap": false,
                    "labelExpr": "floor(datum.value/60) + ':' + (datum.value % 60 == 0 ? '00' : datum.value % 60)",
                    "titlePadding": 8, "titleFontSize": 15}},
                "y": {"field": "efficiency", "type": "quantitative", "title": "Electrical  Efficiency  (%)",
                  "scale": {"domain": [0, 20], "nice": false},
                  "axis": {"values": [0,2,4,6,8,10,12,14,16,18,20], "tickCount": 20, "labelOverlap": false, "labelPadding": 8, "titlePadding": 3}},
                "color": {"field": "series", "type": "nominal",
                  "scale": {"domain": ["cpc", "std"], "range": ["#f21bde", "#7f7f7f"]},
                  "legend": {"legendX": 197, "legendY": -40, "labelExpr": "datum.label == 'cpc' ? 'CPC- PV' : 'Standard PV'"}},
                "strokeOpacity": {"field": "series", "type": "nominal",
                  "scale": {"domain": ["cpc", "std"], "range": [1, 0.8]}, "legend": null}
              }
            },
            {
              "data": {"values": [{}]},
              "mark": {"type": "text", "text": ["d) 200 ppm", "18ᵗʰ Sept."], "font": "Liberation Serif", "fontWeight": "bold", "fontSize": 15.5, "lineHeight": 18, "align": "center", "baseline": "middle", "color": "#000"},
              "encoding": {
                "x": {"datum": 880.6, "type": "quantitative", "title": "Time (hr)"},
                "y": {"datum": 18.33, "type": "quantitative", "title": "Electrical  Efficiency  (%)"}
              }
            }
          ]
        }
      ],
      "spacing": 20,
      "center": false,
      "resolve": {"scale": {"x": "independent", "y": "independent", "color": "independent", "strokeOpacity": "independent"}, "legend": {"color": "independent"}}
    }
  ],
  "spacing": 42,
  "center": true,
  "resolve": {"scale": {"x": "independent", "y": "independent", "color": "independent"}, "legend": {"color": "independent"}}
}
